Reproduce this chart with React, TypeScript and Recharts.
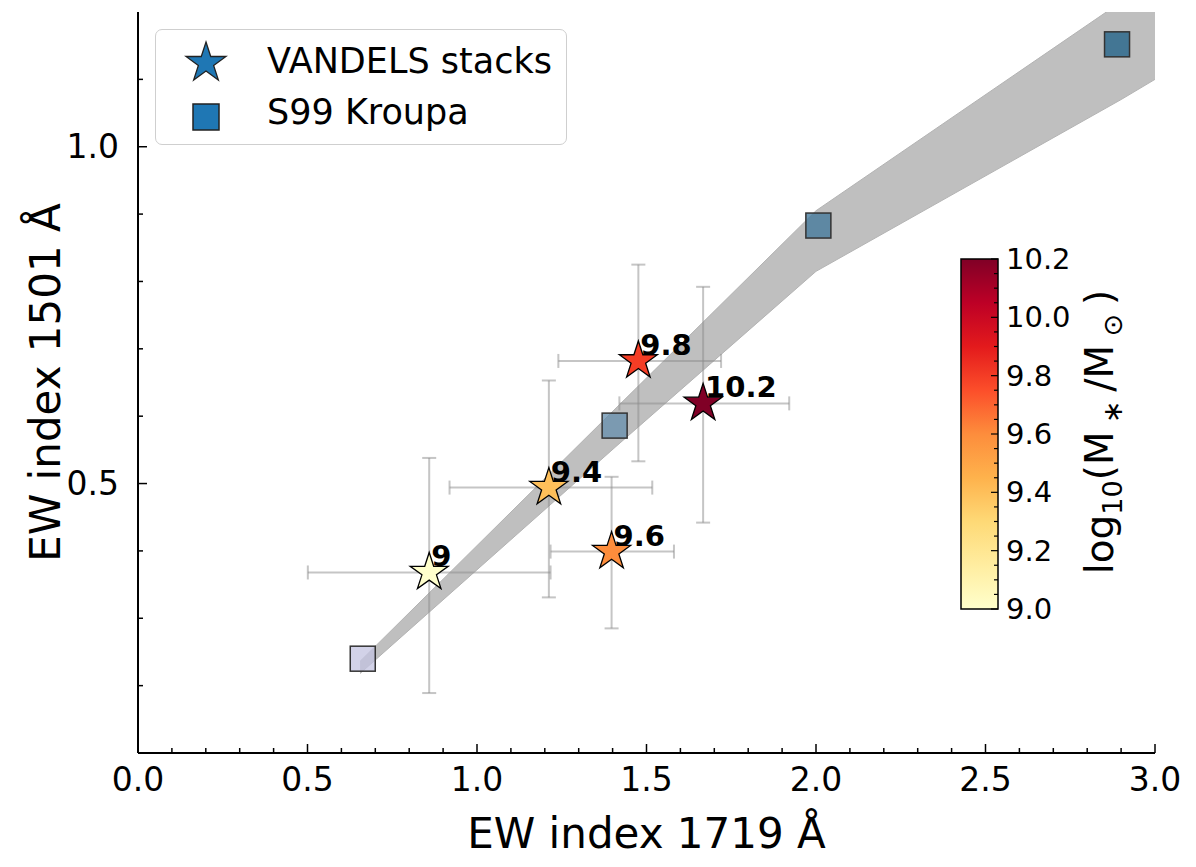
import React from 'react';
import { ComposedChart, Area, Scatter, ErrorBar, XAxis, YAxis, Legend, Label } from 'recharts';

// VANDELS stacks, one per stellar-mass bin
const stackMass = [9.0, 9.4, 9.6, 9.8, 10.2];
const stackEW1719 = [0.859, 1.212, 1.397, 1.476, 1.667];
const stackEW1501 = [0.368, 0.494, 0.399, 0.682, 0.619];
const stackEW1719Low = [0.501, 0.919, 1.217, 1.24, 1.42];
const stackEW1719High = [1.217, 1.517, 1.581, 1.72, 1.921];
const stackEW1501Low = [0.189, 0.331, 0.285, 0.533, 0.442];
const stackEW1501High = [0.538, 0.653, 0.51, 0.825, 0.792];

// S99 Kroupa models
const modelEW1719 = [0.663, 1.406, 2.007, 2.888];
const modelEW1501 = [0.24, 0.586, 0.883, 1.152];

// grey model range
const bandEW1719 = [0.655, 1.41, 2.0, 2.9, 3.0];
const bandLow = [0.218, 0.555, 0.815, 1.07, 1.1];
const bandHigh = [0.236, 0.612, 0.905, 1.215, 1.248];

const xMajorTicks = [0, 0.5, 1.0, 1.5, 2.0, 2.5, 3.0];
const yMajorTicks = [0.5, 1.0];
const cbarTicks = [9.0, 9.2, 9.4, 9.6, 9.8, 10.0, 10.2];
const legendLabels = ['VANDELS stacks', 'S99 Kroupa'];

const W = 1196;
const H = 867;
const FONT = '"DejaVu Sans", sans-serif';
const ylOrRd = ['#ffffcc', '#ffeda0', '#fed976', '#feb24c', '#fd8d3c', '#fc4e2a', '#e31a1c', '#bd0026', '#800026'];
const modelFills = ['#c3c3e0', '#648eac', '#3e769a', '#1a5e86'];
const CB_MIN = 9.0;
const CB_MAX = 10.2;

const xTicks = Array.from({ length: 31 }, (_, i) => i / 10);
const yTicks = Array.from({ length: 10 }, (_, i) => (i + 2) / 10);
const cbarMinor = Array.from({ length: 25 }, (_, i) => 9 + i * 0.05);

const stackData = stackMass.map((m, i) => ({
  x: stackEW1719[i],
  y: stackEW1501[i],
  mass: m,
  xErr: [stackEW1719[i] - stackEW1719Low[i], stackEW1719High[i] - stackEW1719[i]],
  yErr: [stackEW1501[i] - stackEW1501Low[i], stackEW1501High[i] - stackEW1501[i]],
}));
const modelData = modelEW1719.map((x, i) => ({ x, y: modelEW1501[i], i }));
const bandData = bandEW1719.map((x, i) => ({ x, range: [bandLow[i], bandHigh[i]] }));

const isMajor = (v: number, majors: number[]) => majors.some((m) => Math.abs(m - v) < 1e-6);

const hexToRgb = (h: string) => [1, 3, 5].map((k) => parseInt(h.slice(k, k + 2), 16));
function massColor(v: number) {
  const t = Math.min(1, Math.max(0, (v - CB_MIN) / (CB_MAX - CB_MIN)));
  const pos = t * (ylOrRd.length - 1);
  const i = Math.min(Math.floor(pos), ylOrRd.length - 2);
  const f = pos - i;
  const a = hexToRgb(ylOrRd[i]);
  const b = hexToRgb(ylOrRd[i + 1]);
  const c = a.map((av, k) => Math.round(av + (b[k] - av) * f));
  return `rgb(${c[0]},${c[1]},${c[2]})`;
}

function starPoints(cx: number, cy: number, R: number) {
  const r = R * 0.381966;
  const pts: string[] = [];
  for (let k = 0; k < 10; k++) {
    const ang = -Math.PI / 2 + (k * Math.PI) / 5;
    const rad = k % 2 === 0 ? R : r;
    pts.push(`${cx + rad * Math.cos(ang)},${cy + rad * Math.sin(ang)}`);
  }
  return pts.join(' ');
}

const StarShape = (props: any) => {
  const { cx, cy, payload } = props;
  return (
    <g>
      <polygon points={starPoints(cx, cy, 20)} fill={massColor(payload.mass)} stroke="#000" strokeWidth={1.3} />
      <text x={cx + 2} y={cy - 6} fontSize={29} fontWeight="bold" fontFamily={FONT} fill="#000">
        {String(payload.mass)}
      </text>
    </g>
  );
};

const SquareShape = (props: any) => {
  const { cx, cy, payload } = props;
  const s = 12.5;
  return (
    <rect x={cx - s} y={cy - s} width={2 * s} height={2 * s} fill={modelFills[payload.i]} fillOpacity={0.75} stroke="#333" strokeWidth={1.5} />
  );
};

const tickText = { fontSize: 33, fontFamily: FONT, fill: '#000' };

const BottomTick = (props: any) => {
  const { x, y, payload } = props;
  const major = isMajor(payload.value, xMajorTicks);
  return (
    <g>
      <line x1={x} x2={x} y1={y} y2={y - (major ? 9 : 5)} stroke="#000" strokeWidth={1.5} />
      {major && (
        <text x={x} y={y + 38} textAnchor="middle" {...tickText}>
          {payload.value.toFixed(1)}
        </text>
      )}
    </g>
  );
};

const TopTick = (props: any) => {
  const { x, y, payload } = props;
  const major = isMajor(payload.value, xMajorTicks);
  return <line x1={x} x2={x} y1={y} y2={y + (major ? 9 : 5)} stroke="#000" strokeWidth={1.5} />;
};

const LeftTick = (props: any) => {
  const { x, y, payload } = props;
  const major = isMajor(payload.value, yMajorTicks);
  return (
    <g>
      <line x1={x} x2={x + (major ? 9 : 5)} y1={y} y2={y} stroke="#000" strokeWidth={1.5} />
      {major && (
        <text x={x - 19} y={y} textAnchor="end" dominantBaseline="central" {...tickText}>
          {payload.value.toFixed(1)}
        </text>
      )}
    </g>
  );
};

const RightTick = (props: any) => {
  const { x, y, payload } = props;
  const major = isMajor(payload.value, yMajorTicks);
  return <line x1={x} x2={x - (major ? 9 : 5)} y1={y} y2={y} stroke="#000" strokeWidth={1.5} />;
};

const XTitle = (props: any) => {
  const vb = props.viewBox;
  return (
    <text x={vb.x + vb.width / 2} y={vb.y + 95} textAnchor="middle" fontSize={42} fontFamily={FONT} fill="#000">
      EW index 1719 Å
    </text>
  );
};

const YTitle = (props: any) => {
  const vb = props.viewBox;
  const cx = vb.x + 60;
  const cy = vb.y + vb.height / 2;
  return (
    <text transform={`translate(${cx},${cy}) rotate(-90)`} textAnchor="middle" fontSize={42} fontFamily={FONT} fill="#000">
      EW index 1501 Å
    </text>
  );
};

const LegendBox = () => (
  <div
    style={{
      width: 412,
      height: 116,
      boxSizing: 'border-box',
      border: '1.5px solid #cfcfcf',
      borderRadius: 7,
      background: 'rgba(255,255,255,0.8)',
    }}
  >
    <svg width={410} height={113} style={{ display: 'block' }}>
      <polygon points={starPoints(50, 33, 21)} fill="#1f77b4" stroke="#222" strokeWidth={1.3} />
      <rect x={37} y={74} width={26} height={26} fill="#1f77b4" stroke="#222" strokeWidth={1.5} />
      {legendLabels.map((t, i) => (
        <text key={t} x={111} y={i === 0 ? 43 : 94} fontSize={35} fontFamily={FONT} fill="#000">
          {t}
        </text>
      ))}
    </svg>
  </div>
);

const CB = { x: 961, y: 259, w: 37, h: 350 };
const cbY = (v: number) => CB.y + CB.h * (1 - (v - CB_MIN) / (CB_MAX - CB_MIN));

const ColorBar = () => (
  <svg width={W} height={H} style={{ position: 'absolute', left: 0, top: 0, pointerEvents: 'none' }}>
    <defs>
      <linearGradient id="ylorrd" x1="0" y1="1" x2="0" y2="0">
        {ylOrRd.map((c, i) => (
          <stop key={i} offset={i / (ylOrRd.length - 1)} stopColor={c} />
        ))}
      </linearGradient>
    </defs>
    <rect x={CB.x} y={CB.y} width={CB.w} height={CB.h} fill="url(#ylorrd)" stroke="#000" strokeWidth={1.5} />
    {cbarMinor.map((v) => {
      const major = isMajor(v, cbarTicks);
      const yy = cbY(v);
      return <line key={v} x1={CB.x + CB.w - (major ? 7 : 4)} x2={CB.x + CB.w} y1={yy} y2={yy} stroke="#000" strokeWidth={1.2} />;
    })}
    {cbarTicks.map((v) => (
      <text key={v} x={CB.x + CB.w + 8} y={cbY(v)} dominantBaseline="central" fontSize={29} fontFamily={FONT} fill="#000">
        {v.toFixed(1)}
      </text>
    ))}
    <text transform={`translate(1113,${CB.y + CB.h / 2 - 2}) rotate(-90)`} textAnchor="middle" fontSize={39} fontFamily={FONT} fill="#000">
      log<tspan dy={9} fontSize={27}>10</tspan>
      <tspan dy={-9}>(M</tspan>
      <tspan dy={9} fontSize={27}> ∗ </tspan>
      <tspan dy={-9}>/M</tspan>
      <tspan dy={9} fontSize={27}> ⊙ </tspan>
      <tspan dy={-9}>)</tspan>
    </text>
  </svg>
);

const frame = { stroke: '#000', strokeWidth: 2 };

export default function App() {
  return (
    <div style={{ position: 'absolute', left: 0, top: 0, width: W, height: H, background: '#fff' }}>
      <ComposedChart width={W} height={H} margin={{ top: 12, right: 41, bottom: 0, left: 0 }}>
        <XAxis
          xAxisId="x"
          dataKey="x"
          type="number"
          domain={[0, 3]}
          ticks={xTicks}
          interval={0}
          allowDataOverflow
          height={114}
          tickSize={0}
          tickMargin={0}
          tickLine={false}
          axisLine={frame}
          tick={BottomTick}
        >
          <Label content={XTitle} />
        </XAxis>
        <XAxis
          xAxisId="top"
          orientation="top"
          type="number"
          domain={[0, 3]}
          ticks={xTicks}
          interval={0}
          allowDataOverflow
          height={0}
          tickSize={0}
          tickMargin={0}
          tickLine={false}
          axisLine={frame}
          tick={TopTick}
        />
        <YAxis
          yAxisId="y"
          dataKey="y"
          type="number"
          domain={[0.1, 1.2]}
          ticks={yTicks}
          interval={0}
          allowDataOverflow
          width={138}
          tickSize={0}
          tickMargin={0}
          tickLine={false}
          axisLine={frame}
          tick={LeftTick}
        >
          <Label content={YTitle} />
        </YAxis>
        <YAxis
          yAxisId="right"
          orientation="right"
          type="number"
          domain={[0.1, 1.2]}
          ticks={yTicks}
          interval={0}
          allowDataOverflow
          width={0}
          tickSize={0}
          tickMargin={0}
          tickLine={false}
          axisLine={frame}
          tick={RightTick}
        />
        <Area
          xAxisId="x"
          yAxisId="y"
          data={bandData}
          dataKey="range"
          type="linear"
          stroke="#b3b3b3"
          strokeWidth={1}
          fill="#bfbfbf"
          fillOpacity={1}
          dot={false}
          activeDot={false}
          legendType="none"
          isAnimationActive={false}
        />
        <Scatter
          xAxisId="x"
          yAxisId="y"
          name="S99 Kroupa"
          data={modelData}
          shape={SquareShape}
          legendType="square"
          isAnimationActive={false}
        />
        <Scatter
          xAxisId="x"
          yAxisId="y"
          name="VANDELS stacks"
          data={stackData}
          shape={StarShape}
          legendType="star"
          isAnimationActive={false}
        >
          <ErrorBar dataKey="xErr" direction="x" width={7} stroke="rgba(140,140,140,0.5)" strokeWidth={2} />
          <ErrorBar dataKey="yErr" direction="y" width={7} stroke="rgba(140,140,140,0.5)" strokeWidth={2} />
        </Scatter>
        <Legend
          layout="vertical"
          align="center"
          verticalAlign="middle"
          content={LegendBox}
          wrapperStyle={{ position: 'absolute', left: 155, top: 29, width: 412, height: 116 }}
        />
      </ComposedChart>
      <ColorBar />
    </div>
  );
}
